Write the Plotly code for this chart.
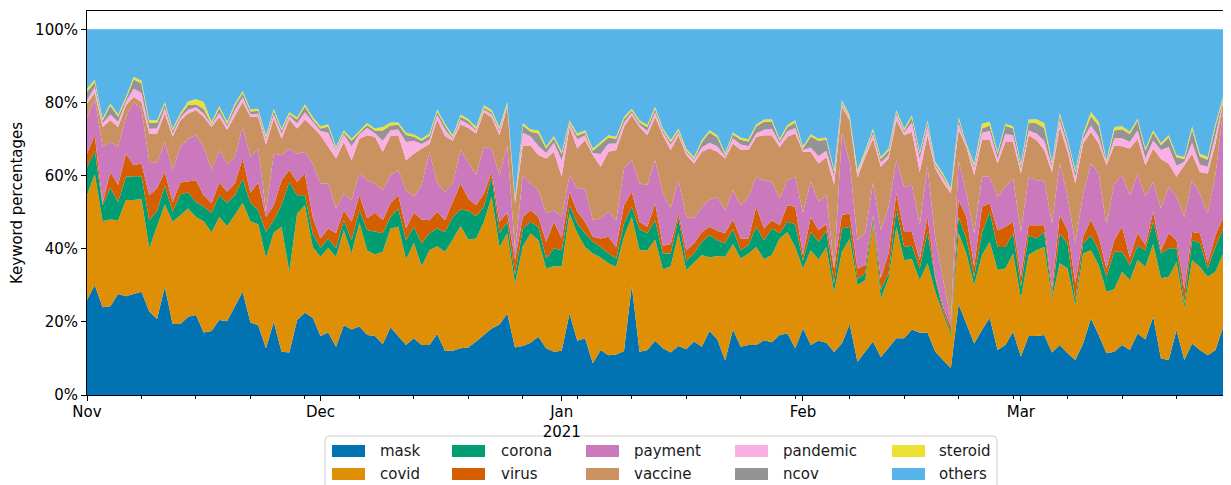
import pandas as pd
import plotly.graph_objects as go

# ---- data: daily keyword shares (%), 2020-11-01 .. 2021-03-28 ----
start_date = "2020-11-01"

mask = [26.0, 30.1, 24.0, 24.3, 27.6, 27.0, 27.6, 28.2, 22.8, 20.8,
        29.6, 19.4, 19.4, 21.4, 21.9, 17.1, 17.5, 20.5, 20.2, 24.3,
        28.2, 19.8, 19.1, 12.8, 20.0, 11.8, 11.6, 20.5, 22.5, 21.1,
        16.1, 17.1, 13.2, 19.1, 17.9, 18.7, 16.4, 16.1, 13.9, 18.5,
        16.1, 13.7, 15.5, 13.7, 13.7, 16.7, 12.1, 12.1, 12.8, 13.0,
        14.6, 16.4, 18.2, 19.3, 22.3, 13.0, 13.4, 14.3, 15.9, 12.8,
        11.8, 12.1, 22.3, 14.8, 15.5, 8.7, 12.3, 10.9, 11.1, 12.0,
        29.9, 11.8, 12.3, 14.8, 12.8, 11.6, 13.4, 12.5, 14.6, 13.2,
        17.5, 15.2, 9.4, 17.9, 13.2, 13.7, 13.7, 15.0, 14.4, 16.4,
        16.8, 12.8, 18.2, 13.7, 14.8, 14.3, 11.8, 14.1, 19.4, 9.1,
        11.8, 14.6, 10.3, 12.8, 15.5, 15.5, 17.9, 17.0, 17.1, 11.8,
        9.6, 7.3, 24.8, 19.6, 14.1, 17.8, 21.1, 12.3, 13.7, 17.3,
        10.5, 16.1, 16.1, 16.4, 11.6, 13.7, 11.4, 9.6, 14.1, 20.9,
        16.4, 11.4, 11.8, 13.7, 12.3, 16.8, 15.2, 21.4, 10.0, 9.6,
        17.8, 9.6, 14.1, 12.3, 10.9, 12.3, 18.7, 15.2]

covid = [28.6, 30.3, 23.5, 23.7, 20.2, 26.3, 25.7, 25.4, 17.3, 25.2,
         22.5, 28.0, 29.8, 29.6, 26.8, 30.4, 26.9, 28.2, 26.0, 24.9,
         24.4, 27.7, 27.6, 24.7, 24.4, 34.2, 22.1, 29.1, 29.4, 19.4,
         21.7, 23.1, 24.6, 26.0, 20.8, 28.4, 23.2, 22.3, 25.3, 27.0,
         29.9, 23.4, 26.1, 21.5, 25.9, 24.0, 27.1, 30.4, 33.4, 29.5,
         28.2, 31.0, 36.0, 21.2, 21.9, 17.5, 27.3, 29.9, 26.4, 21.8,
         23.4, 23.1, 27.3, 29.4, 25.0, 30.0, 25.3, 25.1, 24.0, 31.3,
         18.8, 27.8, 27.3, 27.7, 21.5, 23.6, 30.8, 21.7, 21.6, 25.1,
         20.1, 22.8, 28.4, 23.4, 24.1, 25.0, 26.8, 22.1, 23.9, 26.4,
         27.8, 27.7, 16.4, 25.9, 22.3, 26.2, 16.4, 25.1, 23.4, 21.0,
         19.6, 32.4, 16.1, 19.1, 30.5, 21.4, 19.2, 14.4, 18.9, 16.4,
         12.7, 9.1, 19.4, 19.1, 16.0, 20.5, 20.8, 21.9, 20.9, 21.4,
         15.9, 22.2, 23.5, 24.1, 14.8, 22.3, 23.2, 15.0, 24.6, 18.7,
         19.1, 16.8, 17.1, 20.0, 19.1, 20.1, 19.9, 19.9, 21.9, 22.7,
         18.6, 14.1, 22.8, 22.8, 21.4, 21.4, 20.0, 17.1]

corona = [7.8, 6.3, 4.4, 8.6, 5.0, 6.4, 6.5, 6.2, 7.7, 4.3,
          5.1, 2.7, 5.7, 4.4, 4.1, 4.0, 5.4, 5.9, 6.4, 5.4,
          6.4, 5.1, 3.8, 7.1, 3.4, 6.1, 24.6, 5.0, 2.7, 3.7,
          2.4, 2.6, 2.4, 2.7, 3.6, 3.4, 5.5, 6.2, 5.0, 3.2,
          5.0, 5.2, 4.4, 6.2, 4.6, 4.8, 5.4, 6.2, 4.5, 7.9,
          6.1, 4.1, 5.5, 3.7, 3.2, 2.3, 4.8, 3.2, 3.7, 2.7,
          4.9, 4.4, 2.3, 2.7, 3.7, 3.2, 2.9, 2.7, 2.2, 3.6,
          2.8, 5.7, 4.6, 5.3, 4.4, 3.5, 4.1, 2.5, 2.5, 3.6,
          6.1, 4.3, 3.7, 4.0, 2.3, 2.3, 5.5, 5.2, 7.2, 1.4,
          2.8, 6.2, 2.1, 5.0, 4.8, 4.4, 2.3, 6.3, 3.2, 1.6,
          1.8, 1.5, 2.3, 1.3, 5.0, 3.6, 3.7, 3.2, 8.6, 3.5,
          0.9, 0.9, 4.5, 4.1, 2.2, 6.0, 8.2, 6.3, 5.9, 5.5,
          3.2, 5.4, 3.2, 4.1, 0.9, 8.2, 6.8, 1.4, 2.7, 4.1,
          4.1, 4.1, 10.3, 5.5, 4.1, 3.9, 4.5, 6.1, 6.8, 7.8,
          3.7, 1.3, 5.4, 6.5, 2.3, 6.8, 6.8, 6.0]

virus = [3.6, 4.3, 0.5, 4.4, 4.6, 6.3, 3.0, 3.5, 6.8, 6.2,
         3.8, 2.7, 3.2, 3.1, 5.9, 3.1, 2.6, 3.5, 3.0, 3.2,
         5.7, 2.7, 7.6, 4.1, 4.1, 6.6, 3.2, 3.7, 6.0, 4.5,
         2.6, 2.7, 4.0, 2.7, 5.1, 4.1, 3.2, 5.2, 3.6, 3.7,
         3.6, 3.2, 3.8, 6.6, 3.6, 4.6, 3.2, 4.1, 7.1, 3.3,
         3.0, 3.6, 1.3, 3.2, 2.4, 4.1, 3.2, 3.1, 2.7, 4.6,
         7.3, 3.2, 3.7, 3.2, 3.2, 1.4, 2.3, 4.6, 3.2, 5.0,
         4.1, 2.1, 1.8, 4.6, 2.1, 2.6, 1.3, 2.9, 2.7, 2.7,
         2.3, 2.6, 2.7, 2.7, 3.2, 1.8, 5.5, 3.2, 2.3, 2.2,
         4.5, 4.8, 1.6, 4.1, 3.2, 1.8, 4.1, 3.7, 3.6, 2.9,
         2.3, 0.7, 3.2, 5.5, 4.1, 4.1, 3.8, 2.3, 4.3, 0.6,
         0.9, 1.4, 4.6, 5.9, 2.8, 7.2, 2.3, 4.5, 5.5, 3.2,
         2.7, 2.7, 3.6, 1.8, 1.7, 5.0, 3.7, 4.5, 1.9, 4.3,
         3.7, 2.3, 3.1, 6.8, 2.1, 3.4, 1.4, 2.7, 0.8, 4.1,
         2.2, 4.0, 2.3, 2.6, 1.6, 3.2, 3.2, 1.3]

payment = [10.0, 10.1, 15.5, 8.2, 10.5, 10.0, 17.3, 15.0, 9.2, 7.0,
           8.2, 8.7, 9.8, 11.6, 12.3, 13.3, 9.1, 8.8, 7.5, 7.3,
           8.6, 9.8, 9.3, 1.5, 14.1, 6.9, 5.9, 7.7, 5.9, 14.7,
           15.0, 12.3, 6.8, 4.6, 5.9, 6.0, 10.4, 8.0, 8.2, 7.7,
           6.9, 10.5, 4.4, 9.4, 18.7, 7.7, 7.8, 5.0, 9.1, 9.6,
           8.2, 12.8, 6.4, 12.7, 18.5, 2.7, 11.4, 7.3, 7.3, 7.7,
           3.1, 5.9, 4.5, 6.4, 9.1, 4.5, 5.5, 6.8, 7.3, 10.0,
           8.6, 10.4, 11.4, 11.8, 14.3, 9.7, 9.1, 9.1, 6.9, 6.9,
           7.3, 9.3, 6.3, 8.0, 9.1, 11.4, 8.2, 13.2, 10.5, 7.3,
           6.8, 8.2, 11.5, 9.6, 7.9, 7.9, 0.3, 22.3, 14.1, 7.7,
           8.7, 8.9, 13.2, 12.8, 9.1, 12.3, 12.8, 9.5, 13.5, 10.5,
           7.8, 1.8, 10.9, 6.4, 9.1, 8.2, 7.3, 9.2, 10.9, 11.8,
           12.3, 13.3, 12.3, 12.3, 17.9, 14.1, 9.1, 10.9, 11.8, 15.3,
           17.3, 11.8, 15.5, 14.1, 17.0, 16.4, 13.2, 8.2, 11.5, 12.7,
           11.9, 19.7, 14.1, 10.9, 13.4, 16.4, 29.3, 21.0]

vaccine = [3.7, 1.5, 5.4, 5.9, 5.4, 3.2, 1.4, 1.8, 7.7, 8.0,
           7.8, 9.1, 7.2, 6.9, 6.9, 8.1, 11.8, 9.1, 9.4, 11.4,
           6.8, 10.9, 8.6, 18.3, 9.6, 4.5, 7.9, 6.9, 8.8, 9.9,
           13.2, 10.1, 13.7, 14.1, 10.9, 9.5, 12.3, 12.8, 10.5, 10.7,
           9.5, 8.2, 11.8, 10.0, 2.1, 17.5, 15.2, 11.7, 7.1, 9.7,
           11.4, 9.5, 8.5, 10.9, 10.5, 12.9, 8.1, 10.4, 9.6, 15.1,
           16.0, 11.0, 13.2, 10.9, 13.2, 17.8, 14.1, 16.4, 19.2, 11.4,
           12.3, 15.5, 13.6, 11.8, 15.9, 16.0, 12.3, 16.9, 15.0, 15.0,
           14.2, 12.3, 14.2, 12.8, 15.1, 12.8, 10.9, 12.3, 12.7, 14.1,
           11.9, 11.8, 16.7, 8.2, 10.3, 10.5, 22.8, 7.3, 11.4, 17.2,
           20.9, 12.0, 17.3, 13.2, 10.9, 14.1, 14.5, 14.6, 8.6, 19.1,
           26.3, 34.6, 8.3, 12.7, 15.9, 10.0, 10.0, 9.1, 12.3, 10.0,
           16.0, 11.3, 11.0, 8.3, 14.1, 10.0, 12.3, 16.4, 13.7, 8.6,
           8.2, 16.4, 10.4, 7.9, 12.8, 9.5, 8.6, 9.1, 13.5, 6.4,
           5.5, 14.1, 7.3, 5.9, 11.0, 8.7, 2.0, 4.5]

pandemic = [0.9, 1.6, 1.0, 1.6, 1.4, 1.0, 2.3, 2.5, 1.3, 1.4,
            1.5, 0.9, 0.8, 1.0, 0.8, 1.0, 0.5, 1.2, 1.0, 1.4,
            1.3, 0.8, 0.9, 1.3, 1.2, 1.4, 1.0, 1.4, 2.0, 1.3,
            1.2, 3.8, 2.2, 2.0, 3.8, 1.2, 2.0, 1.0, 3.0, 1.6,
            1.6, 5.0, 3.5, 1.2, 1.2, 1.3, 1.8, 0.6, 1.2, 1.1,
            0.8, 0.7, 0.8, 1.1, 0.4, 0.3, 3.5, 2.5, 2.5, 1.5,
            2.5, 4.5, 0.8, 2.5, 1.3, 0.6, 3.5, 2.2, 1.8, 1.2,
            0.7, 0.6, 1.2, 1.3, 0.8, 1.4, 0.8, 0.8, 0.9, 1.2,
            1.5, 1.5, 0.6, 1.4, 1.5, 1.0, 1.0, 1.5, 1.8, 1.1,
            1.5, 1.5, 0.5, 1.2, 2.0, 1.7, 2.5, 0.7, 0.5, 1.2,
            0.8, 1.3, 1.2, 1.0, 1.6, 0.8, 2.6, 3.5, 2.5, 0.8,
            1.2, 0.6, 1.7, 0.4, 1.8, 2.0, 2.5, 1.4, 2.2, 1.8,
            1.2, 1.3, 1.8, 2.5, 1.4, 1.8, 1.7, 1.8, 1.3, 1.8,
            1.8, 0.5, 2.0, 2.2, 1.8, 2.3, 2.0, 2.2, 2.5, 4.5,
            3.0, 1.0, 3.0, 2.0, 1.8, 2.2, 0.5, 3.6]

ncov = [2.3, 1.3, 0.7, 2.4, 1.4, 0.7, 2.5, 2.6, 1.6, 1.5,
        1.0, 0.8, 0.6, 1.3, 0.8, 1.2, 0.3, 1.2, 0.6, 1.2,
        1.1, 0.7, 0.8, 0.6, 0.9, 0.8, 0.5, 1.0, 1.6, 0.8,
        0.7, 1.7, 0.4, 0.6, 1.5, 0.5, 0.8, 0.7, 2.8, 1.3,
        1.3, 1.9, 1.1, 0.9, 1.1, 0.9, 1.0, 0.3, 0.9, 0.8,
        0.4, 0.5, 0.6, 0.6, 0.3, 0.2, 2.0, 1.3, 3.4, 1.2,
        1.2, 1.7, 0.4, 1.0, 0.8, 0.6, 2.6, 1.7, 1.2, 0.9,
        0.5, 0.6, 1.0, 0.9, 0.5, 0.7, 0.5, 0.4, 0.3, 1.4,
        2.8, 2.4, 0.3, 1.0, 1.3, 1.3, 1.8, 2.2, 2.0, 0.6,
        1.1, 1.5, 0.4, 3.0, 4.2, 3.0, 1.0, 0.5, 0.3, 0.2,
        0.4, 0.9, 0.9, 1.1, 0.6, 0.5, 1.4, 1.4, 1.0, 0.5,
        0.6, 0.2, 1.2, 0.1, 0.8, 1.2, 1.5, 1.2, 2.2, 1.9,
        0.9, 2.2, 2.8, 3.5, 0.8, 1.2, 1.3, 1.3, 0.8, 2.5,
        3.0, 0.3, 2.1, 2.5, 2.2, 2.6, 2.0, 2.2, 1.3, 2.6,
        2.3, 0.7, 3.5, 2.2, 1.9, 2.4, 0.4, 1.5]

steroid = [0.9, 0.7, 0.6, 0.6, 0.6, 0.6, 0.7, 0.7, 0.7, 0.7,
           0.6, 0.6, 0.6, 1.0, 1.4, 1.9, 0.6, 0.6, 0.6, 0.6,
           0.6, 0.6, 0.6, 0.6, 0.6, 0.6, 0.6, 0.6, 0.6, 0.6,
           0.6, 0.6, 0.6, 0.6, 0.6, 0.6, 0.6, 0.6, 1.0, 0.8,
           0.6, 0.6, 0.6, 0.6, 0.6, 0.6, 0.6, 0.6, 0.6, 0.6,
           0.6, 0.6, 0.6, 0.6, 0.6, 0.8, 0.7, 0.6, 0.9, 0.6,
           0.6, 0.6, 0.6, 0.6, 0.6, 0.6, 0.7, 0.6, 0.6, 0.6,
           0.6, 0.6, 0.6, 0.6, 0.6, 0.6, 0.6, 0.6, 0.6, 0.6,
           0.6, 0.6, 0.6, 0.6, 0.6, 0.6, 0.6, 0.6, 0.6, 0.6,
           0.6, 0.6, 0.6, 0.6, 0.6, 0.6, 0.6, 0.6, 0.6, 0.6,
           0.6, 0.6, 0.6, 0.6, 0.6, 0.6, 0.6, 0.6, 0.6, 0.6,
           0.6, 0.6, 0.6, 0.5, 0.6, 1.3, 1.0, 0.6, 0.6, 0.6,
           0.6, 0.8, 1.1, 1.4, 0.6, 0.8, 0.6, 0.6, 0.6, 1.2,
           1.1, 0.6, 1.0, 0.8, 0.6, 0.6, 0.6, 0.6, 0.6, 0.6,
           0.6, 0.6, 1.0, 0.8, 0.8, 0.8, 0.8, 5.0]

others = [16.2, 13.8, 24.4, 20.3, 23.3, 18.5, 13.0, 14.1, 24.9, 24.9,
          19.9, 27.1, 22.9, 19.7, 19.1, 19.9, 25.3, 21.0, 25.3, 20.3,
          16.9, 21.9, 21.7, 29.0, 21.7, 27.1, 22.6, 24.1, 20.5, 24.0,
          26.5, 26.0, 32.1, 27.6, 29.9, 27.6, 25.6, 27.1, 26.7, 25.5,
          25.5, 28.3, 28.8, 29.9, 28.5, 21.9, 25.8, 29.0, 23.3, 24.5,
          26.7, 20.8, 22.1, 26.7, 19.9, 46.2, 25.6, 27.4, 27.6, 32.0,
          29.2, 33.5, 24.9, 28.5, 27.6, 32.6, 30.8, 29.0, 29.4, 24.0,
          21.7, 24.9, 26.2, 21.2, 27.1, 30.3, 27.1, 32.6, 34.9, 30.3,
          27.6, 29.0, 33.8, 28.2, 29.6, 30.1, 26.0, 24.7, 24.6, 29.9,
          26.2, 24.9, 32.0, 28.7, 29.9, 29.6, 38.5, 19.4, 23.5, 38.5,
          33.1, 27.1, 34.9, 32.6, 22.1, 27.1, 23.5, 33.5, 24.9, 36.2,
          39.4, 43.5, 24.0, 31.2, 36.7, 25.8, 25.3, 33.5, 25.8, 26.5,
          36.7, 24.7, 24.6, 25.6, 36.2, 22.9, 29.9, 38.5, 28.5, 22.6,
          25.3, 35.8, 26.7, 26.5, 28.0, 24.4, 32.6, 27.6, 31.1, 29.0,
          34.4, 34.9, 26.5, 34.0, 34.9, 25.8, 18.3, 24.8]

series_names = ["mask", "covid", "corona", "virus", "payment",
                "vaccine", "pandemic", "ncov", "steroid", "others"]
series_values = [mask, covid, corona, virus, payment,
                 vaccine, pandemic, ncov, steroid, others]
colors = ["#0173B2", "#DE8F05", "#029E73", "#D55E00", "#CC78BC",
          "#CA9161", "#FBAFE4", "#949494", "#ECE133", "#56B4E9"]

month_ticks = ["2020-11-01", "2020-12-01", "2021-01-01", "2021-02-01", "2021-03-01"]
month_labels = ["Nov", "Dec", "Jan<br>2021", "Feb", "Mar"]
y_ticks = [0, 20, 40, 60, 80, 100]
y_labels = ["0%", "20%", "40%", "60%", "80%", "100%"]

dates = pd.date_range(start_date, periods=len(mask), freq="D")

# ---- layout geometry ----
# The page body has an 8px margin, so the figure is made 8px smaller and all
# target page-pixel positions are shifted by OFF.
OFF = 8
W, H = 1231 - OFF, 485 - OFF
L_PX, R_PX, T_PX, B_PX = 87 - OFF, 1231 - OFF, 11 - OFF, 395 - OFF
PW, PH = R_PX - L_PX, B_PX - T_PX


def px_x(page_px):
    return (page_px - OFF - L_PX) / PW


def px_y(page_py):
    return (B_PX - (page_py - OFF)) / PH


FONT = "DejaVu Sans, Liberation Sans, sans-serif"
FS = 15

fig = go.Figure()
for i, (name, vals, col) in enumerate(zip(series_names, series_values, colors)):
    fig.add_trace(go.Scatter(
        x=dates, y=vals, name=name, mode="lines",
        line=dict(width=0, color=col), fillcolor=col,
        stackgroup="one", groupnorm="percent" if i == 0 else None,
        showlegend=False, hoverinfo="skip",
    ))

# ---- legend (matplotlib style: 5 columns x 2 rows, column-major) ----
swatch_left_px = [332, 452, 586, 735, 892]
text_left_px = [378, 499, 632, 781, 937]
row_center_px = [451, 474]
shapes = []
annotations = []

x0, x1 = px_x(325), px_x(997)
y0, y1 = px_y(436), px_y(505)
rx, ry = 4 / PW, 4 / PH
frame_path = (f"M {x0},{y1} L {x0},{y0 - ry} Q {x0},{y0} {x0 + rx},{y0} "
              f"L {x1 - rx},{y0} Q {x1},{y0} {x1},{y0 - ry} L {x1},{y1}")
shapes.append(dict(type="path", path=frame_path, xref="paper", yref="paper",
                   line=dict(color="#d0d0d0", width=1), fillcolor="rgba(0,0,0,0)",
                   layer="below"))

for i, (name, col) in enumerate(zip(series_names, colors)):
    c, r = i // 2, i % 2
    cy = row_center_px[r]
    shapes.append(dict(type="rect", xref="paper", yref="paper",
                       x0=px_x(swatch_left_px[c]), x1=px_x(swatch_left_px[c] + 33),
                       y0=px_y(cy + 6), y1=px_y(cy - 6),
                       fillcolor=col, line=dict(width=0), layer="above"))
    annotations.append(dict(text=name, xref="paper", yref="paper",
                            x=px_x(text_left_px[c]), y=px_y(cy),
                            xanchor="left", yanchor="middle", showarrow=False,
                            font=dict(family=FONT, size=FS, color="#1a1a1a")))

fig.update_layout(
    width=W, height=H,
    margin=dict(l=L_PX, r=W - R_PX, t=T_PX, b=H - B_PX, pad=0, autoexpand=False),
    paper_bgcolor="white", plot_bgcolor="white",
    font=dict(family=FONT, size=FS, color="black"),
    showlegend=False,
    shapes=shapes,
    annotations=annotations,
)

fig.update_xaxes(
    range=[dates[0], dates[-1]], autorange=False, automargin=False,
    tickvals=month_ticks, ticktext=month_labels,
    ticks="outside", ticklen=5, tickcolor="black", tickwidth=1,
    ticklabelstandoff=-2,
    showline=True, linecolor="black", linewidth=1, mirror=True,
    showgrid=False, zeroline=False,
    tickfont=dict(family=FONT, size=FS, color="black"),
    minor=dict(ticks="outside", ticklen=3, tickcolor="black",
               dtick=7 * 86400000, tick0="2020-11-08", showgrid=False),
)
fig.update_yaxes(
    range=[0, 105], autorange=False, automargin=False,
    tickvals=y_ticks, ticktext=y_labels,
    ticks="outside", ticklen=5, tickcolor="black", tickwidth=1,
    showline=True, linecolor="black", linewidth=1, mirror=True,
    showgrid=False, zeroline=False,
    tickfont=dict(family=FONT, size=FS, color="black"),
    title=dict(text="Keyword percentages", font=dict(family=FONT, size=FS, color="black"),
               standoff=12),
)

fig.write_html("out.html")
